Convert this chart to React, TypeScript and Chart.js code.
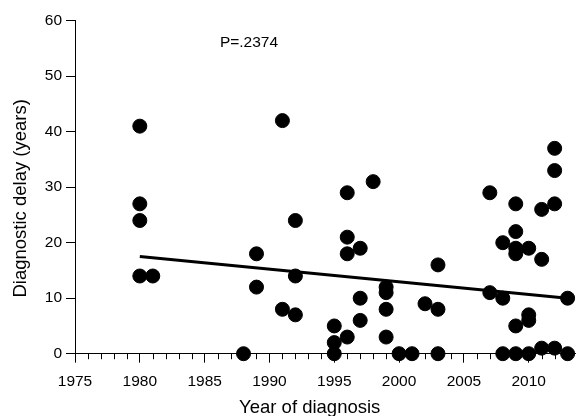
import React, { useEffect, useRef } from "react";
import { Chart, registerables } from "chart.js";

Chart.register(...registerables);

// Scatter data: year of diagnosis and diagnostic delay (years)
const years = [
  1980, 1980, 1980, 1980, 1981, 1988, 1989, 1989, 1991, 1991,
  1992, 1992, 1992, 1995, 1995, 1995, 1996, 1996, 1996, 1996,
  1997, 1997, 1997, 1998, 1999, 1999, 1999, 1999, 2000, 2001,
  2002, 2003, 2003, 2003, 2007, 2007, 2008, 2008, 2008, 2009,
  2009, 2009, 2009, 2009, 2009, 2010, 2010, 2010, 2010, 2011,
  2011, 2011, 2012, 2012, 2012, 2012, 2013, 2013,
];
const delays = [
  41, 27, 24, 14, 14, 0, 18, 12, 42, 8,
  24, 14, 7, 5, 2, 0, 29, 21, 18, 3,
  19, 10, 6, 31, 12, 11, 8, 3, 0, 0,
  9, 16, 8, 0, 29, 11, 20, 10, 0, 27,
  22, 19, 18, 5, 0, 19, 7, 6, 0, 26,
  17, 1, 37, 33, 27, 1, 10, 0,
];

// Fitted trend line end points
const trendYears = [1980, 2013];
const trendValues = [17.5, 10];

const yTicks = [0, 10, 20, 30, 40, 50, 60];
const xMin = 1975;
const xMax = 2013.57;

const xTitle = "Year of diagnosis";
const yTitle = "Diagnostic delay (years)";
const pLabel = "P=.2374";
const pLabelPos = { x: 1988.42, y: 55.95 };

const FONT = "'Liberation Sans', Arial, Helvetica, sans-serif";

export default function App() {
  const ref = useRef<HTMLCanvasElement | null>(null);

  useEffect(() => {
    if (!ref.current) return;
    const extras = {
      id: "extras",
      afterDraw(chart: any) {
        const { ctx, chartArea } = chart;
        const xs = chart.scales.x;
        const ys = chart.scales.y;
        ctx.save();
        // minor ticks
        ctx.strokeStyle = "#000";
        ctx.lineWidth = 1;
        for (let v = Math.ceil(xMin); v <= xMax; v++) {
          if (v % 5 === 0) continue;
          const px = Math.round(xs.getPixelForValue(v)) + 0.5;
          ctx.beginPath();
          ctx.moveTo(px, chartArea.bottom);
          ctx.lineTo(px, chartArea.bottom + 5.5);
          ctx.stroke();
        }
        ctx.fillStyle = "#000";
        // P label
        ctx.font = `15.5px ${FONT}`;
        ctx.textAlign = "center";
        ctx.textBaseline = "middle";
        ctx.fillText(pLabel, xs.getPixelForValue(pLabelPos.x), ys.getPixelForValue(pLabelPos.y));
        // axis titles
        ctx.font = `18.5px ${FONT}`;
        ctx.textBaseline = "alphabetic";
        ctx.fillText(xTitle, 309.7, 413.3);
        ctx.translate(26.2, 198.3);
        ctx.rotate(-Math.PI / 2);
        ctx.fillText(yTitle, 0, 0);
        ctx.restore();
      },
    };

    const chart = new Chart(ref.current, {
      type: "scatter",
      data: {
        datasets: [
          {
            type: "scatter",
            data: years.map((y, i) => ({ x: y, y: delays[i] })),
            backgroundColor: "#000",
            borderColor: "#000",
            borderWidth: 1,
            pointRadius: 7,
            clip: false,
          } as any,
          {
            type: "line",
            data: trendYears.map((y, i) => ({ x: y, y: trendValues[i] })),
            borderColor: "#000",
            borderWidth: 3,
            pointRadius: 0,
            fill: false,
            showLine: true,
          } as any,
        ],
      },
      options: {
        animation: false,
        responsive: false,
        layout: { padding: { top: 20.7, right: 0, bottom: 0, left: 0 } },
        plugins: {
          legend: { display: false },
          tooltip: { enabled: false },
          title: { display: false },
        },
        scales: {
          x: {
            type: "linear",
            min: xMin,
            max: xMax,
            afterBuildTicks(scale: any) {
              const t = [];
              for (let v = xMin; v <= xMax; v += 5) t.push({ value: v });
              scale.ticks = t;
            },
            afterFit(scale: any) {
              scale.height = 62.3;
            },
            ticks: {
              autoSkip: false,
              maxRotation: 0,
              padding: 10,
              color: "#000",
              font: { size: 15.5, family: FONT },
              callback: (v: any) => String(v),
            },
            grid: {
              drawOnChartArea: false,
              drawTicks: true,
              tickLength: 9,
              tickColor: "#000",
              tickWidth: 1,
              color: "#000",
            },
            border: { display: true, color: "#000", width: 1 },
          },
          y: {
            type: "linear",
            min: 0,
            max: 60,
            afterBuildTicks(scale: any) {
              scale.ticks = yTicks.map((v) => ({ value: v }));
            },
            afterFit(scale: any) {
              scale.width = 75;
            },
            ticks: {
              padding: 4,
              color: "#000",
              font: { size: 15.5, family: FONT },
            },
            grid: {
              drawOnChartArea: false,
              drawTicks: true,
              tickLength: 9,
              tickColor: "#000",
              tickWidth: 1,
              color: "#000",
            },
            border: { display: true, color: "#000", width: 1 },
          },
        },
      } as any,
      plugins: [extras],
    });
    return () => chart.destroy();
  }, []);

  return (
    <div style={{ position: "fixed", left: 0, top: 0, width: 583, height: 416, background: "#fff" }}>
      <canvas ref={ref} width={583} height={416} style={{ display: "block" }} />
    </div>
  );
}
